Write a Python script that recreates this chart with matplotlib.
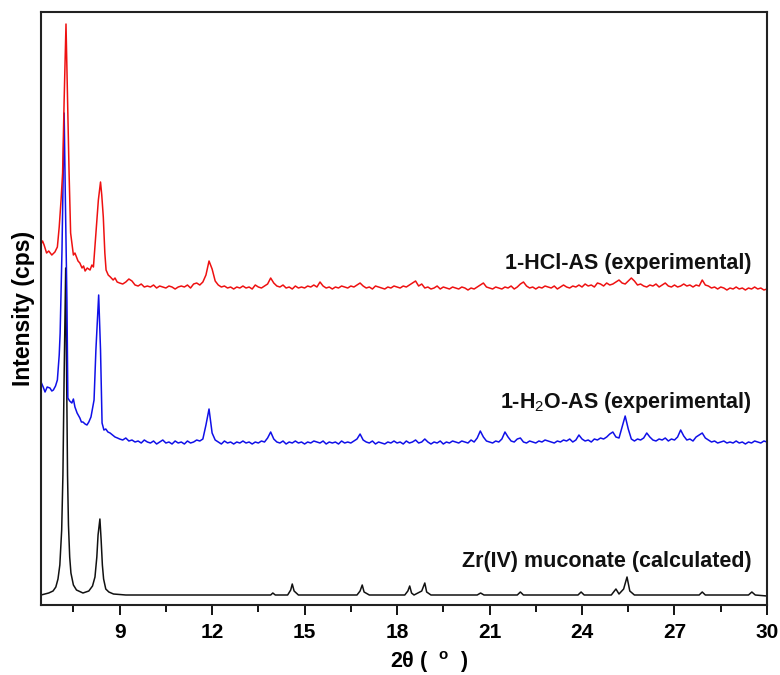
import numpy as np
import matplotlib
matplotlib.use('Agg')
import matplotlib.pyplot as plt
from matplotlib.ticker import MultipleLocator

plt.rcParams['font.family'] = ['Liberation Sans', 'DejaVu Sans']
plt.rcParams['mathtext.fontset'] = 'custom'
plt.rcParams['mathtext.rm'] = 'Liberation Sans'
plt.rcParams['mathtext.bf'] = 'Liberation Sans:bold'

# --- data (intensity in arbitrary units, patterns already offset) ---
# low-angle region, read point by point
red_tt_low = [6.45, 6.5, 6.55, 6.63, 6.7, 6.8, 6.9, 6.98, 7.04, 7.1, 7.15, 7.2, 7.26,
              7.31, 7.36, 7.41, 7.5, 7.55, 7.6, 7.65, 7.71, 7.78, 7.83, 7.88, 7.95,
              8.04, 8.1, 8.15, 8.23, 8.31, 8.38, 8.42, 8.47, 8.52, 8.56, 8.63, 8.7,
              8.79, 8.85, 8.92]
red_int_low = [361, 364, 360, 352, 354, 350, 353, 358, 378, 405, 432, 505, 581,
               505, 432, 372, 350, 352, 348, 344, 342, 337, 339, 334, 337,
               335, 340, 338, 372, 405, 423, 410, 388, 352, 335, 330, 328,
               325, 327, 323]

blue_tt_low = [6.45, 6.52, 6.58, 6.65, 6.74, 6.8, 6.85, 6.92, 6.98, 7.04, 7.07, 7.13,
               7.18, 7.2, 7.24, 7.29, 7.32, 7.38, 7.45, 7.5, 7.55, 7.62, 7.71, 7.76,
               7.81, 7.88, 7.94, 8.0, 8.07, 8.17, 8.23, 8.32, 8.38, 8.43, 8.49, 8.55,
               8.62, 8.69, 8.77, 8.85, 8.93]
blue_int_low = [223, 218, 213, 218, 217, 214, 215, 219, 225, 250, 272, 355,
                455, 492, 405, 305, 207, 204, 202, 206, 198, 192, 187, 183,
                183, 181, 180, 183, 188, 205, 255, 310, 255, 182, 175, 176,
                173, 172, 170, 168, 167]

# 9-30 deg scan, 0.1 deg step
SCAN_START = 9.0
SCAN_STEP = 0.1
red_scan = [
    322, 321, 323, 326, 324, 320, 319, 321, 318, 319,
    318, 320, 317, 319, 318, 317, 319, 318, 316, 318,
    319, 318, 320, 317, 321, 322, 320, 323, 330, 344,
    336, 324, 320, 318, 319, 317, 318, 316, 318, 317,
    319, 317, 318, 316, 320, 318, 317, 319, 321, 327,
    322, 319, 318, 320, 317, 318, 316, 319, 317, 318,
    317, 319, 318, 320, 318, 323, 319, 317, 318, 316,
    318, 317, 319, 318, 317, 319, 318, 320, 322, 319,
    317, 318, 316, 319, 318, 317, 316, 318, 317, 319,
    318, 317, 319, 318, 320, 322, 324, 319, 321, 317,
    318, 316, 317, 319, 316, 318, 317, 316, 318, 317,
    316, 318, 317, 315, 317, 316, 318, 320, 322, 318,
    317, 316, 318, 317, 316, 318, 317, 319, 316, 318,
    321, 323, 319, 317, 318, 316, 318, 317, 319, 318,
    317, 319, 316, 318, 320, 318, 317, 319, 318, 320,
    318, 321, 319, 320, 318, 322, 321, 319, 322, 320,
    321, 323, 325, 322, 321, 324, 327, 324, 320, 321,
    319, 318, 320, 319, 321, 318, 320, 322, 319, 318,
    320, 318, 319, 321, 319, 320, 318, 320, 319, 325,
    320, 319, 317, 318, 316, 318, 317, 315, 317, 316,
    318, 316, 317, 315, 317, 316, 318, 316, 317, 315,
    316]
blue_scan = [
    166, 165, 167, 164, 165, 163, 164, 162, 165, 163,
    162, 164, 161, 163, 165, 162, 163, 161, 164, 162,
    163, 161, 164, 162, 163, 165, 164, 166, 180, 196,
    172, 165, 163, 161, 164, 162, 163, 161, 163, 162,
    164, 162, 163, 161, 163, 162, 164, 163, 167, 173,
    166, 163, 162, 164, 161, 163, 162, 164, 162, 163,
    161, 163, 162, 164, 163, 162, 164, 161, 163, 162,
    163, 161, 164, 162, 163, 162, 164, 166, 171, 165,
    163, 162, 164, 161, 163, 162, 161, 163, 162, 164,
    162, 163, 161, 164, 162, 163, 165, 162, 163, 166,
    163, 161, 163, 162, 164, 161, 163, 162, 164, 163,
    162, 164, 163, 162, 165, 163, 167, 174, 168, 164,
    163, 162, 164, 163, 166, 173, 168, 164, 163, 166,
    167, 163, 162, 164, 163, 162, 164, 163, 165, 164,
    163, 162, 164, 163, 165, 164, 166, 163, 165, 170,
    166, 164, 165, 163, 166, 165, 167, 166, 168, 171,
    173, 168, 167, 178, 189, 176, 166, 164, 166, 165,
    167, 172, 168, 165, 164, 166, 165, 167, 164, 166,
    165, 168, 175, 169, 165, 166, 164, 168, 170, 172,
    167, 165, 163, 164, 162, 163, 164, 162, 163, 162,
    164, 162, 163, 161, 163, 162, 164, 163, 162, 164,
    163]

# calculated pattern (smooth), read point by point
calc_tt = [6.45, 6.7, 6.84, 6.93, 7.0, 7.06, 7.12, 7.16, 7.2, 7.25, 7.28, 7.31, 7.34,
           7.38, 7.42, 7.5, 7.6, 7.81, 8.0, 8.12, 8.2, 8.26, 8.3, 8.36, 8.4, 8.44,
           8.48, 8.55, 8.65, 8.8, 9.2, 13.9, 13.97, 14.05,
           14.45, 14.55, 14.6, 14.66, 14.8, 16.7, 16.8, 16.87, 16.93, 17.1,
           18.25, 18.35, 18.41, 18.47, 18.55, 18.8, 18.9, 18.96, 19.1,
           20.6, 20.71, 20.82, 21.9, 22.0, 22.1, 23.87, 23.97, 24.07,
           24.95, 25.1, 25.2, 25.35, 25.46, 25.55, 25.7, 27.8, 27.9, 28.0,
           29.4, 29.51, 29.62, 30.0]
calc_int = [10, 12, 14, 18, 26, 40, 75, 130, 230, 337, 230, 130, 80,
            48, 32, 20, 15, 12, 14, 19, 28, 48, 70, 86, 65, 40,
            26, 16, 13, 11, 10, 10, 12, 10,
            10, 15, 21, 14, 10, 10, 14, 20, 13, 10,
            10, 14, 19, 12, 10, 14, 22, 13, 10,
            10, 12, 10, 10, 13, 10, 10, 13, 10,
            10, 16, 11, 16, 28, 14, 10, 10, 13, 10,
            10, 13, 10, 9]

labels = ['1-HCl-AS (experimental)', '1-H$_2$O-AS (experimental)',
          'Zr(IV) muconate (calculated)']
label_y = [342, 203, 44]

scan_tt = SCAN_START + SCAN_STEP * np.arange(len(red_scan))
red_tt = np.concatenate([red_tt_low, scan_tt])
red_int = np.concatenate([red_int_low, red_scan])
blue_tt = np.concatenate([blue_tt_low, scan_tt])
blue_int = np.concatenate([blue_int_low, blue_scan])

fig = plt.figure(figsize=(7.8, 6.75), dpi=100)
ax = fig.add_axes([0.0526, 0.1037, 0.9307, 0.8785])

ax.plot(calc_tt, calc_int, color='#111111', lw=1.1)
ax.plot(blue_tt, blue_int, color='#1010e8', lw=1.1)
ax.plot(red_tt, red_int, color='#ee1111', lw=1.1)

for txt, y in zip(labels, label_y):
    ax.text(29.5, y, txt, ha='right', va='center', fontsize=15.5, fontweight='bold',
            color='#111111')

ax.set_xlim(6.45, 30)
ax.set_ylim(0, 593)
ax.xaxis.set_major_locator(MultipleLocator(3))
ax.xaxis.set_minor_locator(MultipleLocator(1.5))
ax.set_yticks([])
ax.tick_params(axis='x', which='major', direction='out', length=7, width=1.3,
               labelsize=15, pad=6)
ax.tick_params(axis='x', which='minor', direction='out', length=5, width=1.3)
for lbl in ax.get_xticklabels():
    lbl.set_fontweight('bold')
for sp in ax.spines.values():
    sp.set_linewidth(1.5)
    sp.set_color('#222222')

ax.set_xlabel('2\u03b8 (  $^{\\mathbf{o}}$  )', fontsize=15.5, fontweight='bold', labelpad=2)
ax.xaxis.set_label_coords(0.535, -0.075)
ax.set_ylabel('Intensity (cps)', fontsize=16.5, fontweight='bold', labelpad=4)

fig.savefig('out.png', dpi=100)
